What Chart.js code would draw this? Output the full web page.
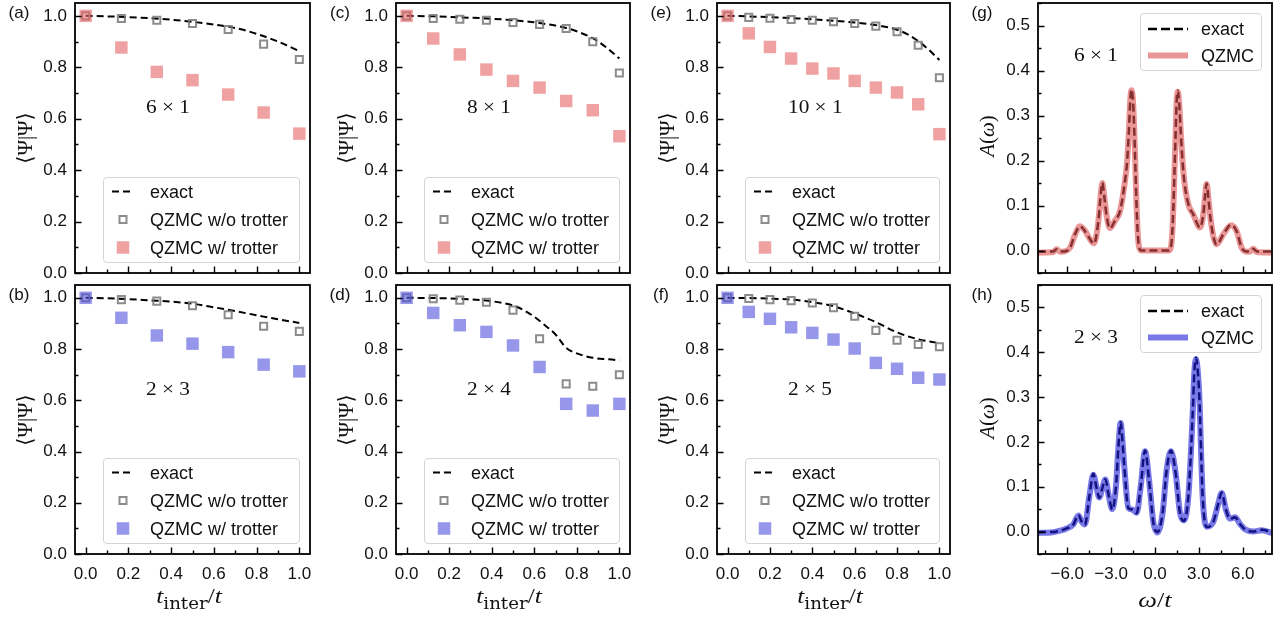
<!DOCTYPE html>
<html>
<head>
<meta charset="utf-8">
<script src="https://cdn.jsdelivr.net/npm/chart.js@4.4.0/dist/chart.umd.min.js"></script>
<style>
  body { margin: 0; background: #fff; }
  #fig { position: relative; width: 1281px; height: 620px; overflow: hidden;
         font-family: 'Liberation Sans', Arial, sans-serif; }
  #fig canvas { position: absolute; }
  .t { position: absolute; white-space: nowrap; line-height: 1; color: #111; }
  .m { font-family: 'Liberation Serif', 'DejaVu Serif', serif; font-size: 21px; }
  .m sub { font-family: 'DejaVu Serif', serif; font-size: 72%; vertical-align: -0.35em;
           line-height: 0; font-style: normal; }
  .leg { position: absolute; box-sizing: border-box; border: 1.5px solid #d4d4d4;
         border-radius: 4px; background: rgba(255,255,255,0.85); }
  .leg span { position: absolute; white-space: nowrap; font-size: 18px; color: #111;
              transform: translateY(-50%); line-height: 1; }
  .leg svg { position: absolute; left: 0; top: 0; }
</style>
</head>
<body>
<div id="fig"></div>
<script>
// ---- tick labels ----
const fidTicks  = [0, 0.2, 0.4, 0.6, 0.8, 1.0];
const specXTicks = [-6, -3, 0, 3, 6];
const specYTicks = [0, 0.1, 0.2, 0.3, 0.4, 0.5];

// ---- x grids of the fidelity panels ----
const x6  = [0, 0.167, 0.333, 0.5, 0.667, 0.833, 1.0];
const x8  = [0, 0.125, 0.25, 0.375, 0.5, 0.625, 0.75, 0.875, 1.0];
const x10 = [0, 0.1, 0.2, 0.3, 0.4, 0.5, 0.6, 0.7, 0.8, 0.9, 1.0];

// (a) 6x1
const exactA_x = [0, 0.1, 0.2, 0.3, 0.4, 0.5, 0.6, 0.7, 0.8, 0.9, 1.0];
const exactA_y = [1.0, 0.998, 0.995, 0.991, 0.985, 0.977, 0.966, 0.953, 0.93, 0.9, 0.863];
const noTrotA  = [1.0, 0.99, 0.983, 0.97, 0.947, 0.89, 0.83];
const trotA    = [1.0, 0.877, 0.782, 0.75, 0.694, 0.624, 0.542];

// (c) 8x1
const exactC_x = [0, 0.125, 0.25, 0.375, 0.5, 0.625, 0.75, 0.8125, 0.875, 0.9375, 1.0];
const exactC_y = [1.0, 0.998, 0.994, 0.99, 0.983, 0.972, 0.953, 0.936, 0.913, 0.878, 0.834];
const noTrotC  = [1.0, 0.99, 0.987, 0.983, 0.974, 0.967, 0.951, 0.899, 0.778];
const trotC    = [1.0, 0.912, 0.85, 0.791, 0.747, 0.721, 0.669, 0.633, 0.532];

// (e) 10x1
const exactE_x = [0, 0.1, 0.2, 0.3, 0.4, 0.5, 0.6, 0.7, 0.8, 0.85, 0.9, 0.95, 1.0];
const exactE_y = [1.0, 0.998, 0.995, 0.991, 0.987, 0.981, 0.974, 0.964, 0.946, 0.928, 0.902, 0.868, 0.828];
const noTrotE  = [1.0, 0.994, 0.991, 0.986, 0.983, 0.977, 0.97, 0.96, 0.938, 0.886, 0.759];
const trotE    = [1.0, 0.932, 0.879, 0.834, 0.795, 0.776, 0.747, 0.721, 0.702, 0.656, 0.54];

// (b) 2x3
const exactB_x = [0, 0.1, 0.2, 0.3, 0.4, 0.5, 0.6, 0.7, 0.8, 0.9, 1.0];
const exactB_y = [1.0, 0.998, 0.995, 0.99, 0.985, 0.977, 0.963, 0.948, 0.932, 0.916, 0.902];
const noTrotB  = [1.0, 0.993, 0.987, 0.969, 0.934, 0.889, 0.869];
const trotB    = [1.0, 0.922, 0.853, 0.821, 0.788, 0.739, 0.713];

// (d) 2x4
const exactD_x = [0, 0.125, 0.25, 0.375, 0.45, 0.5, 0.55, 0.6, 0.65, 0.7, 0.75, 0.8, 0.875, 0.95, 1.0];
const exactD_y = [1.0, 0.999, 0.996, 0.989, 0.98, 0.97, 0.952, 0.926, 0.893, 0.857, 0.805, 0.783, 0.766, 0.76, 0.756];
const noTrotD  = [1.0, 0.996, 0.991, 0.983, 0.952, 0.84, 0.664, 0.655, 0.7];
const trotD    = [1.0, 0.941, 0.893, 0.867, 0.814, 0.73, 0.586, 0.56, 0.586];

// (f) 2x5
const exactF_x = [0, 0.1, 0.2, 0.3, 0.4, 0.5, 0.6, 0.7, 0.8, 0.9, 1.0];
const exactF_y = [1.0, 0.999, 0.997, 0.993, 0.983, 0.967, 0.939, 0.905, 0.865, 0.838, 0.823];
const noTrotF  = [1.0, 0.997, 0.993, 0.989, 0.98, 0.961, 0.928, 0.873, 0.834, 0.818, 0.809];
const trotF    = [1.0, 0.945, 0.918, 0.885, 0.863, 0.837, 0.802, 0.746, 0.723, 0.688, 0.681];

// (g) spectral function 6x1
const omegaG = [-8, -7.2, -6.95, -6.72, -6.5, -6.2, -5.81, -5.47, -5.13, -4.79, -4.44, -4.17, -3.87, -3.75,
  -3.6, -3.47, -3.3, -3.08, -2.74, -2.39, -2.05, -1.9, -1.78, -1.68, -1.6, -1.5, -1.4, -1.3, -1.2, -1.1,
  -0.95, 0, 0.95, 1.1, 1.2, 1.3, 1.4, 1.48, 1.56, 1.65, 1.75, 1.88, 2.0, 2.28, 2.62, 3.08, 3.3, 3.42,
  3.53, 3.67, 3.8, 4.0, 4.22, 4.67, 5.2, 5.58, 5.93, 6.27, 6.5, 6.72, 6.95, 7.18, 8];
const exactG = [-0.002, -0.002, -0.002, 0.003, -0.002, -0.002, 0.006, 0.036, 0.054, 0.043, 0.025, 0.015, 0.066, 0.11,
  0.151, 0.12, 0.075, 0.049, 0.066, 0.088, 0.155, 0.2, 0.27, 0.34, 0.358, 0.33, 0.25, 0.14, 0.05, 0.01,
  0.0, 0.0, 0.0, 0.01, 0.05, 0.14, 0.25, 0.33, 0.355, 0.33, 0.27, 0.2, 0.155, 0.103, 0.08, 0.051, 0.08, 0.12,
  0.149, 0.11, 0.07, 0.03, 0.013, 0.036, 0.057, 0.043, 0.006, -0.002, -0.002, 0.004, -0.002, -0.002, -0.002];
const qzmcG = [-0.005, -0.004, -0.003, 0.003, -0.003, -0.002, 0.006, 0.035, 0.054, 0.044, 0.025, 0.016, 0.065, 0.11,
  0.15, 0.12, 0.076, 0.05, 0.066, 0.088, 0.155, 0.2, 0.27, 0.34, 0.356, 0.33, 0.25, 0.14, 0.05, 0.01,
  0.0, 0.0, 0.0, 0.01, 0.05, 0.14, 0.25, 0.33, 0.353, 0.33, 0.27, 0.2, 0.155, 0.103, 0.08, 0.051, 0.08, 0.12,
  0.148, 0.11, 0.07, 0.03, 0.014, 0.036, 0.056, 0.043, 0.006, -0.003, -0.002, 0.004, -0.003, -0.004, -0.005];

// (h) spectral function 2x3
const omegaH = [-8, -7.1, -6.5, -6.04, -5.58, -5.24, -5.01, -4.79, -4.49, -4.22, -3.99, -3.81, -3.6, -3.4,
  -3.15, -2.92, -2.67, -2.5, -2.35, -2.22, -2.1, -1.82, -1.53, -1.25, -0.98, -0.68, -0.41, -0.11, 0.16,
  0.52, 0.8, 1.09, 1.41, 1.71, 1.98, 2.28, 2.58, 2.68, 2.8, 2.92, 3.03, 3.26, 3.53, 3.99, 4.33, 4.56,
  4.85, 5.13, 5.47, 5.81, 6.15, 6.72, 7.29, 8];
const exactH = [-0.001, -0.001, 0.002, 0.007, 0.016, 0.037, 0.022, 0.015, 0.078, 0.129, 0.097, 0.075, 0.097, 0.117,
  0.078, 0.049, 0.1, 0.19, 0.244, 0.2, 0.146, 0.052, 0.049, 0.041, 0.1, 0.181, 0.116, 0.019, -0.001,
  0.041, 0.138, 0.181, 0.131, 0.041, 0.024, 0.078, 0.265, 0.35, 0.388, 0.36, 0.302, 0.078, 0.01, 0.022, 0.063, 0.087,
  0.049, 0.028, 0.032, 0.017, 0.005, 0.0, 0.004, -0.001];
const qzmcH = [-0.003, -0.002, 0.002, 0.007, 0.016, 0.036, 0.022, 0.016, 0.078, 0.127, 0.097, 0.076, 0.097, 0.116,
  0.078, 0.05, 0.1, 0.19, 0.242, 0.2, 0.146, 0.053, 0.049, 0.042, 0.1, 0.179, 0.116, 0.02, -0.002,
  0.041, 0.138, 0.179, 0.131, 0.042, 0.025, 0.078, 0.265, 0.35, 0.385, 0.36, 0.302, 0.078, 0.011, 0.022, 0.063, 0.086,
  0.049, 0.029, 0.032, 0.017, 0.005, 0.0, 0.003, -0.003];

// ---- layout (plot boxes in page pixels) ----
const COLS = [[75, 310], [396, 630], [717, 950], [1038, 1272]];
const ROWS = [[3, 273], [285, 554]];
const PAD = 20, YW = 50, XH = 34;

const PINK_SQ  = 'rgba(230,100,100,0.6)';
const BLUE_SQ  = 'rgba(80,80,220,0.6)';
const GREY_SQ  = 'rgba(120,120,120,0.85)';
const PINK_LN  = 'rgba(222,80,80,0.6)';
const BLUE_LN  = 'rgba(30,30,213,0.6)';
const TICK_FONT = { family: "'Liberation Sans', Arial, sans-serif", size: 17 };

const fig = document.getElementById('fig');

const pts = (xs, ys) => xs.map((x, i) => ({ x, y: ys[i] }));
const fmt = v => v.toFixed(1).replace('-', '\u2212');

// frame on all four sides + inward ticks on left and bottom
const frameTicks = {
  id: 'frameTicks',
  afterDraw(chart, args, o) {
    const { ctx, chartArea: a } = chart;
    const sx = chart.scales.x, sy = chart.scales.y;
    const majX = sx.ticks.map(t => t.value), majY = sy.ticks.map(t => t.value);
    const isMaj = (list, v) => list.some(m => Math.abs(m - v) < 1e-6);
    ctx.save();
    ctx.strokeStyle = '#000';
    ctx.lineWidth = 1.4;
    ctx.beginPath();
    for (let k = Math.ceil(sx.min / o.xMinor - 1e-9); k * o.xMinor <= sx.max + 1e-9; k++) {
      const v = k * o.xMinor;
      const px = Math.round(sx.getPixelForValue(v)) + 0.5;
      const len = isMaj(majX, v) ? 6.5 : 3.5;
      ctx.moveTo(px, a.bottom); ctx.lineTo(px, a.bottom - len);
    }
    for (let k = Math.ceil(sy.min / o.yMinor - 1e-9); k * o.yMinor <= sy.max + 1e-9; k++) {
      const v = k * o.yMinor;
      const py = Math.round(sy.getPixelForValue(v)) + 0.5;
      const len = isMaj(majY, v) ? 6.5 : 3.5;
      ctx.moveTo(a.left, py); ctx.lineTo(a.left + len, py);
    }
    ctx.stroke();
    ctx.lineWidth = 1.8;
    ctx.strokeRect(a.left, a.top, a.right - a.left, a.bottom - a.top);
    ctx.restore();
  }
};

function makeCanvas(col, row) {
  const [L, R] = COLS[col], [T, B] = ROWS[row];
  const xh = row === 1 ? XH : 0;
  const c = document.createElement('canvas');
  c.width = PAD + YW + (R - L) + PAD;
  c.height = PAD + (B - T) + xh + PAD;
  c.style.left = (L - PAD - YW) + 'px';
  c.style.top = (T - PAD) + 'px';
  c.style.width = c.width + 'px';
  c.style.height = c.height + 'px';
  fig.appendChild(c);
  return c;
}

function axes(row, xr, yr) {
  return {
    x: {
      type: 'linear', min: xr.min, max: xr.max,
      grid: { display: false, drawTicks: false }, border: { display: false },
      ticks: { display: row === 1, autoSkip: false, maxRotation: 0, padding: 10,
               font: TICK_FONT, color: '#111', callback: fmt },
      afterBuildTicks: s => { s.ticks = xr.ticks.map(v => ({ value: v })); },
      afterFit: s => { s.height = row === 1 ? XH : 0; }
    },
    y: {
      type: 'linear', min: yr.min, max: yr.max,
      grid: { display: false, drawTicks: false }, border: { display: false },
      ticks: { autoSkip: false, padding: 8, font: TICK_FONT, color: '#111', callback: fmt },
      afterBuildTicks: s => { s.ticks = yr.ticks.map(v => ({ value: v })); },
      afterFit: s => { s.width = YW; }
    }
  };
}

function baseOpts(row, xr, yr) {
  return {
    responsive: false, animation: false, events: [],
    layout: { padding: PAD },
    plugins: { legend: { display: false }, tooltip: { enabled: false },
               frameTicks: { xMinor: xr.minor, yMinor: yr.minor } },
    scales: axes(row, xr, yr)
  };
}

function txt(html, x, y, cls, transform) {
  const d = document.createElement('div');
  d.className = 't ' + (cls || '');
  d.innerHTML = html;
  d.style.left = x + 'px';
  d.style.top = y + 'px';
  d.style.transform = transform || 'translate(-50%,-50%)';
  fig.appendChild(d);
  return d;
}

// legend box with svg markers and text rows
function legend(x, y, w, h, rows, mk) {
  const box = document.createElement('div');
  box.className = 'leg';
  Object.assign(box.style, { left: x + 'px', top: y + 'px', width: w + 'px', height: h + 'px' });
  let svg = `<svg width="${w}" height="${h}">`;
  rows.forEach(r => {
    const cy = r.y, cx = (mk.m0 + mk.m1) / 2;
    if (r.kind === 'dash') {
      svg += `<line x1="${mk.m0}" y1="${cy}" x2="${mk.m1}" y2="${cy}" stroke="#000" stroke-width="${r.lw}" stroke-dasharray="${r.dash}"/>`;
    } else if (r.kind === 'band') {
      svg += `<line x1="${mk.m0}" y1="${cy}" x2="${mk.m1}" y2="${cy}" stroke="${r.color}" stroke-width="6"/>`;
    } else if (r.kind === 'open') {
      svg += `<rect x="${cx - 3.5}" y="${cy - 3.5}" width="7" height="7" fill="none" stroke="${r.color}" stroke-width="2"/>`;
    } else {
      svg += `<rect x="${cx - 6.25}" y="${cy - 6.25}" width="12.5" height="12.5" fill="${r.color}"/>`;
    }
    const s = document.createElement('span');
    s.textContent = r.text;
    s.style.left = mk.tx + 'px';
    s.style.top = cy + 'px';
    box.appendChild(s);
  });
  box.insertAdjacentHTML('afterbegin', svg + '</svg>');
  fig.appendChild(box);
}

// ---- fidelity panels ----
const fidelity = [
  { tag: '(a)', col: 0, row: 0, size: '6 \u00d7 1',  xs: x6,  ex: exactA_x, ey: exactA_y, no: noTrotA, tr: trotA, c: PINK_SQ },
  { tag: '(c)', col: 1, row: 0, size: '8 \u00d7 1',  xs: x8,  ex: exactC_x, ey: exactC_y, no: noTrotC, tr: trotC, c: PINK_SQ },
  { tag: '(e)', col: 2, row: 0, size: '10 \u00d7 1', xs: x10, ex: exactE_x, ey: exactE_y, no: noTrotE, tr: trotE, c: PINK_SQ },
  { tag: '(b)', col: 0, row: 1, size: '2 \u00d7 3',  xs: x6,  ex: exactB_x, ey: exactB_y, no: noTrotB, tr: trotB, c: BLUE_SQ },
  { tag: '(d)', col: 1, row: 1, size: '2 \u00d7 4',  xs: x8,  ex: exactD_x, ey: exactD_y, no: noTrotD, tr: trotD, c: BLUE_SQ },
  { tag: '(f)', col: 2, row: 1, size: '2 \u00d7 5',  xs: x10, ex: exactF_x, ey: exactF_y, no: noTrotF, tr: trotF, c: BLUE_SQ }
];

fidelity.forEach(p => {
  const canvas = makeCanvas(p.col, p.row);
  const xr = { min: -0.05, max: 1.05, ticks: fidTicks, minor: 0.1 };
  const yr = { min: 0, max: 1.05, ticks: fidTicks, minor: 0.1 };
  new Chart(canvas, {
    type: 'scatter',
    data: {
      datasets: [
        { label: 'QZMC w/ trotter', data: pts(p.xs, p.tr), order: 0, pointStyle: 'rect',
          pointRadius: 8.8, backgroundColor: p.c, borderWidth: 0, showLine: false },
        { label: 'QZMC w/o trotter', data: pts(p.xs, p.no), order: 1, pointStyle: 'rect',
          pointRadius: 5, backgroundColor: 'rgba(0,0,0,0)', borderColor: GREY_SQ, pointBorderWidth: 2, showLine: false },
        { label: 'exact', data: pts(p.ex, p.ey), order: 2, showLine: true, pointRadius: 0,
          borderColor: '#000', borderWidth: 2, borderDash: [7, 4], cubicInterpolationMode: 'monotone' }
      ]
    },
    options: baseOpts(p.row, xr, yr),
    plugins: [frameTicks]
  });

  const [L, R] = COLS[p.col], [T, B] = ROWS[p.row];
  txt(p.tag, L - 56, T + 9).style.fontSize = '17px';
  txt('\u27e8\u03a8|\u03a8\u27e9', L - 50, (T + B) / 2, 'm', 'translate(-50%,-50%) rotate(-90deg)');
  const s = txt(p.size, L + 71, T + 103, 'm', 'translate(0,-50%) scaleX(1.12)');
  s.style.fontSize = '19px';
  s.style.transformOrigin = 'left center';
  if (p.row === 1) txt('<i>t</i><sub>inter</sub>/<i>t</i>', (L + R) / 2 - 4, 596, 'm',
                       'translate(-50%,-50%) scaleX(1.15)').style.fontSize = '22px';
  legend(L + 28, B - 96, R - L - 38, 86, [
    { kind: 'dash', y: 13.5, lw: 2, dash: '7 4', text: 'exact' },
    { kind: 'open', y: 41.5, color: GREY_SQ, text: 'QZMC w/o trotter' },
    { kind: 'fill', y: 69.5, color: p.c, text: 'QZMC w/ trotter' }
  ], { m0: 8, m1: 30, tx: 46 });
});

// ---- spectral function panels ----
const spectral = [
  { tag: '(g)', row: 0, size: '6 \u00d7 1', w: omegaG, ex: exactG, qz: qzmcG, c: PINK_LN },
  { tag: '(h)', row: 1, size: '2 \u00d7 3', w: omegaH, ex: exactH, qz: qzmcH, c: BLUE_LN }
];

spectral.forEach(p => {
  const canvas = makeCanvas(3, p.row);
  const xr = { min: -8, max: 8, ticks: specXTicks, minor: 1.5 };
  const yr = { min: -0.05, max: 0.55, ticks: specYTicks, minor: 0.05 };
  new Chart(canvas, {
    type: 'scatter',
    data: {
      datasets: [
        { label: 'QZMC', data: pts(p.w, p.qz), order: 0, showLine: true, pointRadius: 0,
          borderColor: p.c, borderWidth: 6, cubicInterpolationMode: 'monotone' },
        { label: 'exact', data: pts(p.w, p.ex), order: 1, showLine: true, pointRadius: 0,
          borderColor: '#000', borderWidth: 2.5, borderDash: [8, 4], cubicInterpolationMode: 'monotone' }
      ]
    },
    options: baseOpts(p.row, xr, yr),
    plugins: [frameTicks]
  });

  const [L, R] = COLS[3], [T, B] = ROWS[p.row];
  txt(p.tag, L - 56, T + 9).style.fontSize = '17px';
  txt('<i>A</i>(<i>\u03c9</i>)', L - 51, (T + B) / 2 - 2, 'm', 'translate(-50%,-50%) rotate(-90deg)');
  const s = txt(p.size, L + 36, T + 51, 'm', 'translate(0,-50%) scaleX(1.12)');
  s.style.fontSize = '19px';
  s.style.transformOrigin = 'left center';
  if (p.row === 1) txt('<i>\u03c9</i>/<i>t</i>', (L + R) / 2, 600, 'm',
                       'translate(-50%,-50%) scaleX(1.2)').style.fontSize = '22px';
  legend(1140, T + 10, 122, 58, [
    { kind: 'dash', y: 15, lw: 2.5, dash: '9 4', text: 'exact' },
    { kind: 'band', y: 41.5, color: p.c, text: 'QZMC' }
  ], { m0: 7, m1: 47, tx: 60 });
});
</script>
</body>
</html>
